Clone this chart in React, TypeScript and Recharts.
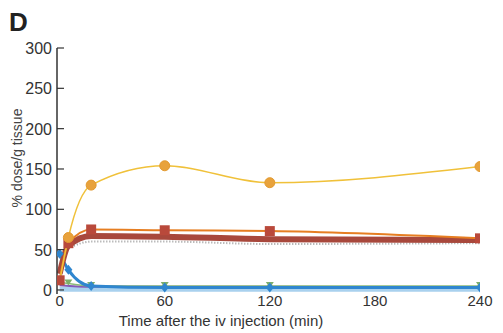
import React from 'react';
import { LineChart, Line, XAxis, YAxis } from 'recharts';

// time points (min) and % dose/g tissue per series
const timesYellow = [0, 5, 18, 60, 120, 240];
const valuesYellow = [10, 65, 130, 154, 133, 153];

const timesOrange = [0, 5, 18, 60, 120, 240];
const valuesOrange = [12, 58, 75, 74, 73, 64];

const timesBrown = [0, 5, 18, 60, 120, 240];
const valuesBrown = [20, 55, 67, 66, 63, 62];

const timesGrey = [5, 18, 60, 120, 240];
const valuesGrey = [52, 60, 60, 57, 58];

const timesBlue = [0, 5, 18, 60, 120, 240];
const valuesBlue = [45, 25, 5, 3, 3, 3];

const timesGreen = [0, 5, 18, 60, 120, 240];
const valuesGreen = [10, 8, 5, 5, 5, 5];

const timesPurple = [0, 18, 60, 120, 240];
const valuesPurple = [6, 4, 4, 4, 3];

const timesLightBlue = [0, 18, 60, 120, 240];
const valuesLightBlue = [1, 1, 1, 1, 1];

const xTicks = [0, 60, 120, 180, 240];
const yTicks = [0, 50, 100, 150, 200, 250, 300];

const toPoints = (t: number[], v: number[]) => t.map((time, i) => ({ time, value: v[i] }));

const FONT = '"Liberation Sans", Arial, sans-serif';

const CircleDot = (props: any) => {
  const { cx, cy, index } = props;
  if (cx == null || cy == null || index === 0) return <g key={index} />;
  return <circle key={index} cx={cx} cy={cy} r={5} fill="#E8A23C" stroke="#E39A30" />;
};

const SquareDot = (props: any) => {
  const { cx, cy, index } = props;
  if (cx == null || cy == null) return <g key={index} />;
  return <rect key={index} x={cx - 5} y={cy - 5} width={10} height={10} fill="#B9493B" />;
};

const DiamondDot = (props: any) => {
  const { cx, cy, index } = props;
  if (cx == null || cy == null) return <g key={index} />;
  return <polygon key={index} points={`${cx},${cy - 5} ${cx + 4},${cy} ${cx},${cy + 5} ${cx - 4},${cy}`} fill="#2F86CF" />;
};

const TriangleDot = (props: any) => {
  const { cx, cy, index } = props;
  if (cx == null || cy == null) return <g key={index} />;
  return <polygon key={index} points={`${cx - 4},${cy - 4} ${cx + 4},${cy - 4} ${cx},${cy + 2}`} fill="#7DAE6A" />;
};

const YTick = (props: any) => {
  const { y, payload } = props;
  return (
    <g>
      <line x1={57} x2={64} y1={y} y2={y} stroke="#333" strokeWidth={1.2} />
      <text x={52} y={y + 6} textAnchor="end" fontSize={16} fill="#333" fontFamily={FONT}>
        {payload.value}
      </text>
    </g>
  );
};

const XTick = (props: any) => {
  const { x, payload } = props;
  return (
    <text x={x} y={306} textAnchor="middle" fontSize={15} fill="#333" fontFamily={FONT}>
      {payload.value}
    </text>
  );
};

export default function App() {
  return (
    <div style={{ position: 'absolute', left: 0, top: 0, width: 503, height: 333, background: '#fff' }}>
      <LineChart width={503} height={333} margin={{ top: 48, right: 23, left: 0, bottom: 0 }}>
        <text x={9} y={31} fontSize={26} fontWeight="bold" fill="#222" fontFamily={FONT}>D</text>
        <text
          x={22}
          y={158}
          transform="rotate(-90 22 158)"
          textAnchor="middle"
          fontSize={14}
          fill="#444"
          fontFamily={FONT}
        >
          % dose/g tissue
        </text>
        <text x={221} y={326} textAnchor="middle" fontSize={15} fill="#333" fontFamily={FONT}>
          Time after the iv injection (min)
        </text>
        <XAxis
          type="number"
          dataKey="time"
          domain={[-1.5, 240]}
          ticks={xTicks}
          allowDataOverflow
          axisLine={false}
          tickLine={false}
          height={39}
          tick={<XTick />}
        />
        <YAxis
          type="number"
          dataKey="value"
          domain={[-5, 300]}
          ticks={yTicks}
          allowDataOverflow
          width={57}
          axisLine={{ stroke: '#333', strokeWidth: 1.5 }}
          tickLine={false}
          tick={<YTick />}
        />
        <Line data={toPoints(timesLightBlue, valuesLightBlue)} dataKey="value" type="linear" stroke="#A9D1EE" strokeWidth={5} dot={false} isAnimationActive={false} />
        <Line data={toPoints(timesPurple, valuesPurple)} dataKey="value" type="monotone" stroke="#8459B8" strokeWidth={2} dot={false} isAnimationActive={false} />
        <Line data={toPoints(timesGreen, valuesGreen)} dataKey="value" type="monotone" stroke="#8DBB78" strokeWidth={1.5} dot={<TriangleDot />} isAnimationActive={false} />
        <Line data={toPoints(timesBlue, valuesBlue)} dataKey="value" type="monotone" stroke="#2F86CF" strokeWidth={3} dot={<DiamondDot />} isAnimationActive={false} />
        <Line data={toPoints(timesGrey, valuesGrey)} dataKey="value" type="monotone" stroke="#9A9A9A" strokeWidth={2} strokeDasharray="1 2" dot={false} isAnimationActive={false} />
        <Line data={toPoints(timesBrown, valuesBrown)} dataKey="value" type="monotone" stroke="#A8483C" strokeWidth={6} dot={false} isAnimationActive={false} />
        <Line data={toPoints(timesOrange, valuesOrange)} dataKey="value" type="monotone" stroke="#E67E22" strokeWidth={2} dot={<SquareDot />} isAnimationActive={false} />
        <Line data={toPoints(timesYellow, valuesYellow)} dataKey="value" type="monotone" stroke="#F0C13A" strokeWidth={1.5} dot={<CircleDot />} isAnimationActive={false} />
      </LineChart>
    </div>
  );
}
